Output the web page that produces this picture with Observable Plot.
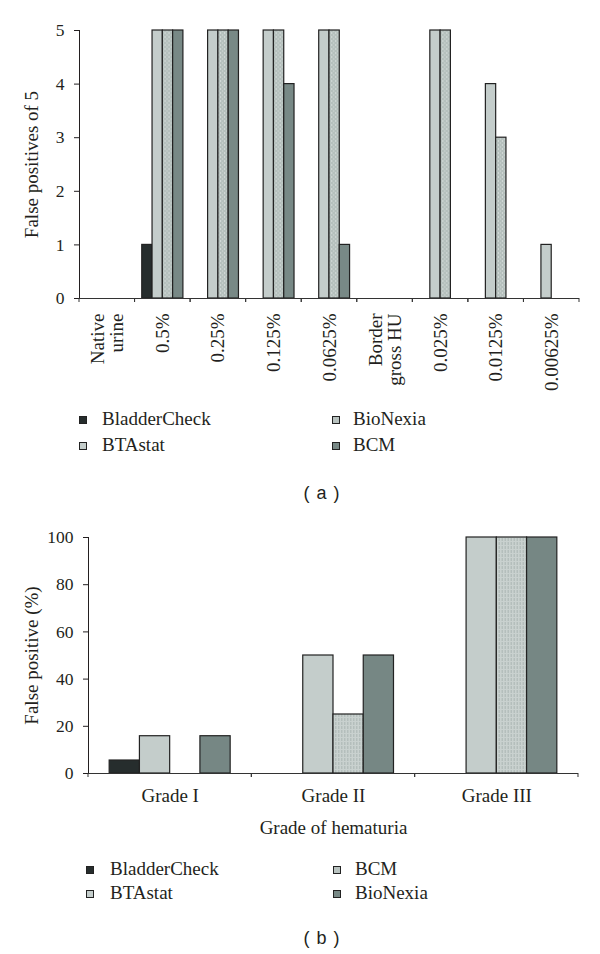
<!DOCTYPE html>
<html>
<head>
<meta charset="utf-8">
<script src="https://cdn.jsdelivr.net/npm/d3@7"></script>
<script src="https://cdn.jsdelivr.net/npm/@observablehq/plot@0.6"></script>
<style>
  html, body { margin: 0; padding: 0; background: #fff; }
  #page { position: relative; width: 600px; height: 954px; overflow: hidden; background: #fff; }
  .abs { position: absolute; left: 0; }
  g[aria-label="y-axis tick label"] text { font-size: 17.5px; }
</style>
</head>
<body>
<svg width="0" height="0" style="position:absolute">
  <defs>
    <pattern id="hatchA" patternUnits="userSpaceOnUse" width="4" height="4">
      <rect width="4" height="4" fill="#b5c0bd"></rect>
      <rect x="1" y="0" width="1" height="2" fill="#d3dad8"></rect>
      <rect x="3" y="2" width="1" height="2" fill="#c6cfcc"></rect>
    </pattern>
    <pattern id="hatchB" patternUnits="userSpaceOnUse" width="3" height="4">
      <rect width="3" height="4" fill="#c9d1cf"></rect>
      <rect x="1" y="0" width="1" height="3" fill="#aab5b2"></rect>
    </pattern>
  </defs>
</svg>
<div id="page">
  <div id="chartA" class="abs" style="top:0"></div>
  <div id="legendA" class="abs" style="top:400px"></div>
  <div id="chartB" class="abs" style="top:510px"></div>
  <div id="legendB" class="abs" style="top:845px"></div>
</div>
<script>
// ---------- Data: panel (a) ----------
const categoriesA = ["Native\nurine", "0.5%", "0.25%", "0.125%", "0.0625%", "Border\ngross HU", "0.025%", "0.0125%", "0.00625%"];
const seriesA = ["BladderCheck", "BTAstat", "BioNexia", "BCM"];
const bladderCheckA = [0, 1, 0, 0, 0, 0, 0, 0, 0];
const btaStatA      = [0, 5, 5, 5, 5, 0, 5, 4, 1];
const bioNexiaA     = [0, 5, 5, 5, 5, 0, 5, 3, 0];
const bcmA          = [0, 5, 5, 4, 1, 0, 0, 0, 0];
const yTicksA = [0, 1, 2, 3, 4, 5];

// ---------- Data: panel (b) ----------
const categoriesB = ["Grade I", "Grade II", "Grade III"];
const seriesB = ["BladderCheck", "BTAstat", "BCM", "BioNexia"];
const bladderCheckB = [5.5, 0, 0];
const btaStatB      = [15.8, 50, 100];
const bcmB          = [0, 25, 100];
const bioNexiaB     = [15.8, 50, 100];
const yTicksB = [0, 20, 40, 60, 80, 100];

// ---------- Styles ----------
const fillsA = ["#262d2d", "#c4cdcb", "url(#hatchA)", "#788986"];
const fillsB = ["#262d2d", "#c4cdcb", "url(#hatchB)", "#768784"];
const swatchA = ["#262d2d", "#c4cdcb", "#b8c2bf", "#788986"];
const swatchB = ["#262d2d", "#c4cdcb", "#b8c2bf", "#788986"];

function toTable(categories, series, valueArrays) {
  const rows = [];
  categories.forEach((c, i) => series.forEach((s, j) => rows.push({category: c, series: s, value: valueArrays[j][i]})));
  return rows;
}
const dataA = toTable(categoriesA, seriesA, [bladderCheckA, btaStatA, bioNexiaA, bcmA]);
const dataB = toTable(categoriesB, seriesB, [bladderCheckB, btaStatB, bcmB, bioNexiaB]);

// small tick marks at the category boundaries (left & right edge of each facet)
function boundaryTicks(len) {
  return (index, scales) => {
    const [x0, x1] = scales.x.range();
    const y0 = scales.y(0);
    const g = d3.create("svg:g").attr("stroke", "#333").attr("stroke-width", 1);
    for (const x of [x0, x1]) {
      g.append("line").attr("x1", x).attr("x2", x).attr("y1", y0).attr("y2", y0 + len);
    }
    return g.node();
  };
}

const baseStyle = {fontFamily: "'Liberation Serif', 'Times New Roman', serif", fontSize: "19px", color: "#231f20", background: "transparent", overflow: "visible"};

const chartA = Plot.plot({
  width: 600, height: 400,
  marginLeft: 79, marginRight: 21, marginTop: 30, marginBottom: 102,
  style: baseStyle,
  fx: {domain: categoriesA, padding: 0, round: false, axis: "bottom", tickRotate: -90, tickSize: 0, tickPadding: 15, label: null},
  x: {domain: seriesA, paddingInner: 0, paddingOuter: 0.7, round: false, axis: null},
  y: {domain: [0, 5], ticks: yTicksA, tickFormat: d => String(d), tickSize: 5, tickPadding: 10, line: true, label: "False positives of 5", labelAnchor: "center", labelOffset: 55, labelArrow: false},
  color: {domain: seriesA, range: fillsA},
  marks: [
    Plot.barY(dataA, {fx: "category", x: "series", y: "value", fill: "series", stroke: "#222", strokeWidth: 1.2, strokeOpacity: d => d.value > 0 ? 1 : 0}),
    Plot.ruleY([0], {stroke: "#333"}),
    boundaryTicks(4)
  ]
});
document.getElementById("chartA").append(chartA);

const chartB = Plot.plot({
  width: 600, height: 335,
  marginLeft: 88, marginRight: 22, marginTop: 27, marginBottom: 72,
  style: baseStyle,
  fx: {domain: categoriesB, padding: 0, round: false, axis: "bottom", tickSize: 0, tickPadding: 15, label: "Grade of hematuria", labelAnchor: "center", labelOffset: 60, labelArrow: false},
  x: {domain: seriesB, paddingInner: 0, paddingOuter: 0.7, round: false, axis: null},
  y: {domain: [0, 100], ticks: yTicksB, tickFormat: d => String(d), tickSize: 5, tickPadding: 10, line: true, label: "False positive (%)", labelAnchor: "center", labelOffset: 64, labelArrow: false},
  color: {domain: seriesB, range: fillsB},
  marks: [
    Plot.barY(dataB, {fx: "category", x: "series", y: "value", fill: "series", stroke: "#222", strokeWidth: 1.2, strokeOpacity: d => d.value > 0 ? 1 : 0}),
    Plot.ruleY([0], {stroke: "#333"}),
    boundaryTicks(4)
  ]
});
document.getElementById("chartB").append(chartB);

// ---------- Legends + captions ----------
function legend(el, names, colors, opt) {
  const svg = d3.select(el).append("svg").attr("width", 600).attr("height", opt.height)
    .style("font-family", baseStyle.fontFamily).style("font-size", "19px").style("display", "block");
  names.forEach((n, i) => {
    const col = Math.floor(i / 2), row = i % 2;
    const base = opt.baseline0 + row * opt.rowGap;
    svg.append("rect").attr("x", opt.sqX[col] + 0.5).attr("y", base - 8.5).attr("width", 7).attr("height", 7)
      .attr("fill", colors[i]).attr("stroke", "#222").attr("stroke-width", 1);
    svg.append("text").attr("x", opt.textX[col]).attr("y", base).attr("fill", "#231f20").text(n);
  });
  svg.append("text").attr("x", opt.capX).attr("y", opt.capY).attr("text-anchor", "middle")
    .attr("dominant-baseline", "central")
    .style("font-family", "'Liberation Sans', Arial, sans-serif").style("font-size", "18px").style("letter-spacing", "1px")
    .attr("fill", "#231f20").text(opt.caption);
}
legend(document.getElementById("legendA"), seriesA, swatchA,
  {height: 110, baseline0: 25, rowGap: 26, sqX: [79, 332], textX: [102, 353], capX: 322, capY: 93, caption: "( a )"});
legend(document.getElementById("legendB"), seriesB, swatchB,
  {height: 109, baseline0: 30, rowGap: 24, sqX: [86, 333], textX: [110, 355], capX: 322, capY: 92.5, caption: "( b )"});
</script>
</body>
</html>
